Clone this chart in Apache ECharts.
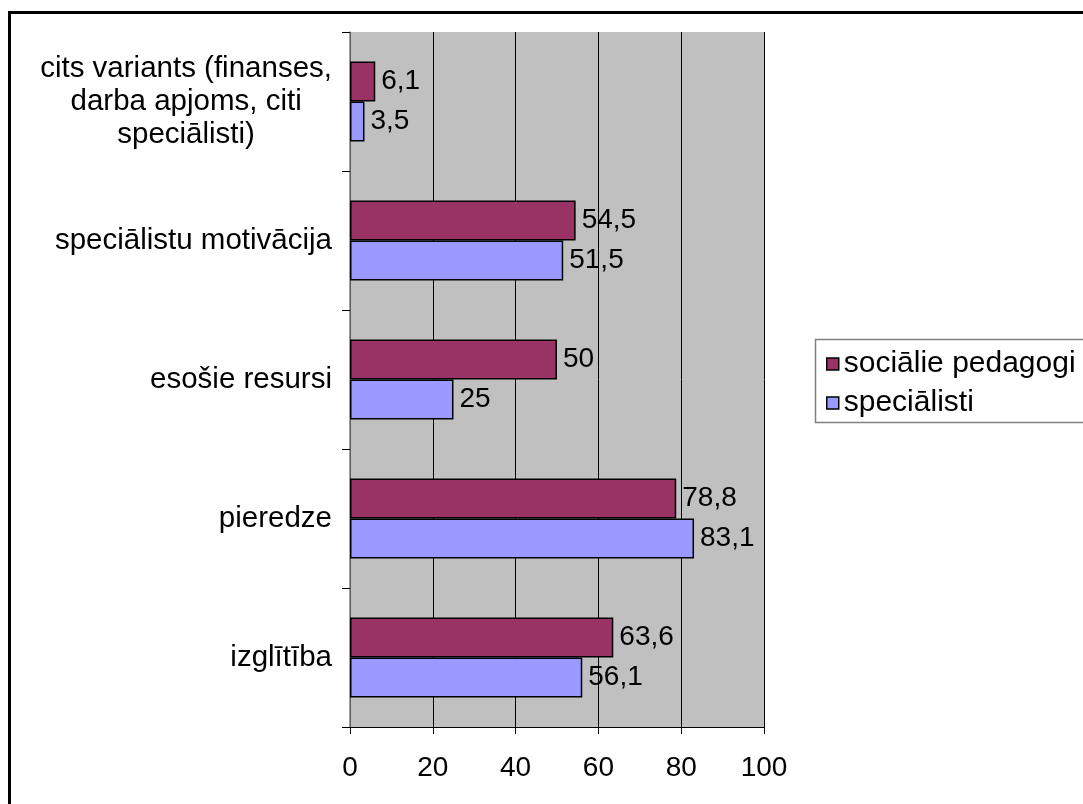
<!DOCTYPE html>
<html>
<head>
<meta charset="utf-8">
<script src="https://cdn.jsdelivr.net/npm/echarts@6/dist/echarts.min.js"></script>
<style>
  html, body { margin: 0; padding: 0; background: #fff; }
  #chart { width: 1083px; height: 804px; }
</style>
</head>
<body>
<div id="chart"></div>
<script>
// Categories, top to bottom
const categories = [
  'cits variants (finanses,\ndarba apjoms, citi\nspeciālisti)',
  'speciālistu motivācija',
  'esošie resursi',
  'pieredze',
  'izglītība'
];
const seriesNames = ['sociālie pedagogi', 'speciālisti'];
const pedagogi = [6.1, 54.5, 50, 78.8, 63.6];
const specialisti = [3.5, 51.5, 25, 83.1, 56.1];
const xTicks = [0, 20, 40, 60, 80, 100];

const FONT = '"Liberation Sans", Arial, sans-serif';
const FS = 28;      // ticks and value labels
const FS_CAT = 29.5; // category names
const FS_LEG = 30;   // legend

const chart = echarts.init(document.getElementById('chart'), null, { renderer: 'canvas' });

const labelFmt = p => String(p.value).replace('.', ',');

function barSeries(name, data, color) {
  return {
    name: name,
    type: 'bar',
    data: data,
    barWidth: 40,
    barGap: '0%',
    itemStyle: { color: color, borderColor: '#000', borderWidth: 1.5 },
    label: {
      show: true,
      position: 'right',
      distance: 6,
      formatter: labelFmt,
      color: '#000',
      fontFamily: FONT,
      fontSize: FS
    },
    emphasis: { disabled: true },
    animation: false
  };
}

chart.setOption({
  backgroundColor: '#fff',
  animation: false,
  graphic: [
    // outer frame
    { type: 'rect', shape: { x: 9.5, y: 12.5, width: 1200, height: 1000 },
      style: { fill: 'none', stroke: '#000', lineWidth: 3 }, z: 10 },
    // legend frame
    { type: 'rect', shape: { x: 815.5, y: 339.5, width: 300, height: 83 },
      style: { fill: '#fff', stroke: '#808080', lineWidth: 1.5 }, z: 0 }
  ],
  grid: {
    left: 350, right: 319, top: 32, bottom: 77,
    show: true, backgroundColor: '#C0C0C0', borderWidth: 0
  },
  legend: {
    orient: 'vertical',
    left: 821, top: 344,
    itemWidth: 12, itemHeight: 12, itemGap: 9,
    icon: 'rect',
    itemStyle: { borderColor: '#000', borderWidth: 1.5 },
    textStyle: { fontFamily: FONT, fontSize: FS_LEG, color: '#000', padding: [0, 0, 0, 0] },
    data: seriesNames,
    z: 5
  },
  xAxis: {
    type: 'value',
    min: xTicks[0], max: xTicks[xTicks.length - 1], interval: 20,
    axisLine: { show: true, lineStyle: { color: '#000', width: 1 } },
    axisTick: { show: true, length: 7, lineStyle: { color: '#000' } },
    splitLine: { show: true, lineStyle: { color: '#000', width: 1 } },
    axisLabel: { color: '#000', fontFamily: FONT, fontSize: FS, margin: 27 }
  },
  yAxis: {
    type: 'category',
    inverse: true,
    data: categories,
    axisLine: { show: true, lineStyle: { color: '#808080', width: 1.5 } },
    axisTick: { show: true, length: 8, lineStyle: { color: '#000' } },
    axisLabel: {
      color: '#000', fontFamily: FONT, fontSize: FS_CAT, margin: 18,
      lineHeight: 33,
      formatter: v => v.indexOf('\n') >= 0
        ? v.split('\n').map(s => '{c|' + s + '}').join('\n')
        : v,
      rich: { c: { align: 'center', fontFamily: FONT, fontSize: FS_CAT, lineHeight: 33, color: '#000' } }
    }
  },
  series: [
    barSeries(seriesNames[0], pedagogi, '#993366'),
    barSeries(seriesNames[1], specialisti, '#9999FF')
  ]
});
</script>
</body>
</html>
